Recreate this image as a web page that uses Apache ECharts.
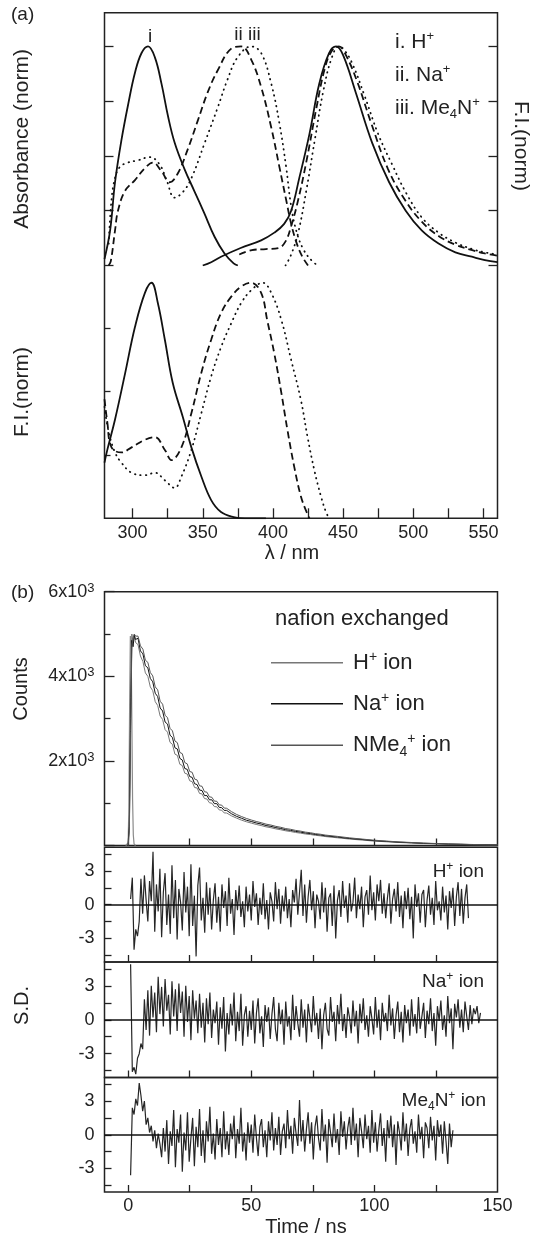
<!DOCTYPE html>
<html>
<head>
<meta charset="utf-8">
<script src="https://cdn.jsdelivr.net/npm/echarts@6.0.0/dist/echarts.min.js"></script>
<style>
  html, body { margin: 0; padding: 0; background: #fff; }
  #chart { width: 534px; height: 1237px; }
</style>
</head>
<body>
<div id="chart"></div>
<script>
// ---------- (a) spectra: [wavelength / nm, normalised value] ----------
// upper: absorbance (left part) and emission (right part)
const absH  = [[280,0.03],[284,0.16],[287.5,0.38],[292,0.57],[297,0.74],[301.7,0.88],[306.4,0.97],[311,1.0],[315.9,0.95],[320.6,0.83],[325.3,0.68],[330,0.56],[337,0.44],[344,0.34],[351,0.24],[358.5,0.13],[365.5,0.055],[372,0.01],[375,0]];
const absNa = [[283,0],[284.5,0.02],[287.5,0.16],[289.6,0.25],[294.6,0.34],[301.7,0.39],[308.8,0.445],[314.4,0.47],[320.6,0.43],[326.5,0.38],[332.2,0.42],[339.3,0.53],[346.4,0.66],[353.5,0.79],[360.6,0.89],[370.3,0.99],[377.4,1.0],[384.5,0.94],[391.6,0.815],[398.8,0.63],[404.6,0.45],[409.4,0.30],[413,0.19],[417,0.1],[421,0.04],[425,0]];
const absMe = [[283,0.1],[285,0.3],[287.5,0.40],[291,0.45],[296.7,0.47],[303.8,0.48],[312.3,0.495],[319.4,0.46],[324.2,0.39],[330,0.31],[335.8,0.335],[342,0.40],[351.4,0.56],[360.6,0.72],[367.7,0.85],[374.8,0.95],[384.5,1.0],[391.6,0.97],[398.8,0.83],[404.6,0.65],[409.4,0.45],[413,0.27],[417,0.15],[422,0.07],[428,0.02],[432,0]];
const flH   = [[350,0],[356,0.015],[363,0.04],[377,0.08],[391.6,0.115],[401,0.15],[408,0.19],[413,0.25],[418.8,0.40],[426,0.60],[433,0.83],[440,0.97],[445,1.0],[450,0.96],[459,0.79],[470.7,0.56],[482.8,0.38],[494.6,0.25],[506,0.16],[518,0.10],[530,0.06],[541.7,0.04],[551,0.025],[560,0.015]];
const flNa  = [[376,0.05],[385,0.07],[395,0.075],[404,0.08],[409,0.11],[413,0.18],[418,0.3],[424,0.48],[431,0.72],[437,0.9],[442,0.98],[447,1.0],[452,0.96],[460,0.84],[470,0.65],[482,0.44],[494,0.3],[506,0.2],[518,0.135],[530,0.095],[542,0.07],[551,0.055],[560,0.045]];
const flMe  = [[409,0],[413,0.05],[418,0.15],[424,0.35],[430,0.58],[436,0.8],[442,0.95],[447,1.0],[450,0.99],[456,0.93],[465,0.78],[475,0.6],[485,0.46],[495,0.33],[506,0.22],[518,0.15],[530,0.105],[542,0.075],[551,0.06],[560,0.05]];
// lower: F.I.(norm)
const exH   = [[280,0.22],[282,0.27],[287.5,0.39],[294.6,0.57],[301.7,0.755],[308.8,0.89],[313.5,0.93],[318,0.85],[323,0.705],[328.6,0.535],[335.8,0.40],[341.9,0.28],[349,0.165],[356,0.072],[363,0.025],[372,0.005],[380,0],[395,0]];
const exNa  = [[280,0.47],[282,0.38],[285,0.28],[292,0.26],[299.3,0.28],[308.8,0.31],[315.9,0.32],[323,0.27],[327.7,0.23],[334.8,0.28],[341.9,0.415],[349,0.575],[356,0.705],[363,0.81],[370.3,0.875],[377.4,0.915],[384.5,0.93],[391.6,0.89],[396,0.78],[401,0.65],[406,0.495],[410.3,0.35],[415.3,0.20],[420,0.085],[423.6,0.03],[426,0]];
const exMe  = [[280,0.44],[283,0.34],[287.5,0.26],[292,0.22],[299.3,0.18],[308.8,0.17],[315.9,0.18],[323,0.15],[330,0.12],[334.8,0.165],[341.9,0.27],[349,0.415],[356,0.56],[363,0.675],[370.3,0.77],[377.4,0.85],[384.5,0.90],[392.8,0.93],[398.8,0.89],[405.9,0.785],[413,0.625],[420,0.465],[424.7,0.32],[429.5,0.19],[434.3,0.085],[437.8,0.025],[440,0]];

const waveTicks  = [300, 325, 350, 375, 400, 425, 450, 475, 500, 525, 550];
const waveLabels = [300, 350, 400, 450, 500, 550];

// ---------- (b) decays ----------
const decayT  = [0,0.5,1,1.5,2,2.5,3,
  4,5,6,7,8,9,10,11,12,13,14,15,16,17,18,19,20,21,22,23,24,25,26,27,28,29,30,31,32,33,34,35,36,37,38,39,40,
  42,44,46,48,50,52,54,56,58,60,62,64,66,68,70,72,74,76,78,80,
  85,90,95,100,105,110,115,120,125,130,135,140,145,150];
const decayH  = [0,700,3500,5000,4800,4950,4800,
  4750,4480,4350,4080,4000,3750,3660,3400,3310,3060,2980,2740,2680,2440,2390,2160,2130,1920,1890,1710,1690,1530,1510,1370,1360,1230,1220,1110,1100,1010,1000,920,915,840,835,770,768,
  700,648,600,562,530,498,472,441,420,392,372,347,330,308,292,272,259,241,229,212,
  182,152,128,104,87,71,58,47,39,30,25,19,15,11];
const decayNa = [0,450,3000,4850,4700,4980,4870,
  4900,4600,4530,4250,4200,3950,3870,3600,3520,3250,3180,2920,2870,2610,2550,2310,2280,2060,2020,1820,1800,1630,1610,1460,1440,1310,1300,1180,1180,1080,1080,990,990,900,895,830,830,
  750,690,645,598,568,533,508,472,452,422,402,373,357,333,317,295,282,261,249,230,
  200,166,142,114,97,78,66,52,44,34,29,21,18,12];
const decayMe = [0,350,2700,4700,4900,5000,4950,
  4950,4720,4640,4380,4330,4090,4010,3750,3680,3410,3340,3080,3020,2770,2710,2470,2430,2200,2170,1960,1930,1750,1730,1570,1550,1410,1400,1270,1260,1150,1140,1050,1045,960,955,885,880,
  800,735,685,640,603,568,540,505,483,452,430,400,383,357,340,316,302,280,267,247,
  215,180,152,125,104,85,71,57,47,38,31,24,19,14];
const irfT = [-1, 0, 0.3, 0.6, 0.9, 1.2, 1.5, 1.8, 2.1, 2.4, 3];
const irfC = [0, 60, 900, 3300, 4950, 4800, 3000, 1100, 250, 40, 0];

// weighted residuals, one value every resStep ns from resStart
const resStart = 1.0, resStep = 0.7;
const resH = [
  0.5,2.4,-4.0,-2.2,-2.8,-1.5,2.3,-0.8,2.6,0.4,
  -1.5,2.1,0.3,4.7,-2.4,1.8,-0.6,3.2,-2.9,1.1,
  2.8,-1.8,0.9,-2.6,3.5,-1.2,2.2,-3.1,1.4,0.2,
  -2.3,2.9,-0.7,1.6,-2.8,3.6,-1.9,0.8,-4.6,1.7,
  3.3,-1.4,0.6,-2.5,2.0,-0.9,1.5,-2.2,0.4,1.9,
  -1.6,0.7,-2.4,1.8,-0.3,1.2,-1.9,2.4,-0.8,0.5,
  -2.7,1.3,-0.5,1.7,-1.1,0.3,-2.0,1.6,-0.6,0.9,
  -1.4,2.1,-0.2,1.0,-1.8,0.6,-0.9,1.9,-1.3,0.4,
  -2.2,1.1,0.3,-1.5,2.0,-0.4,1.4,-1.7,0.8,-0.6,
  1.6,-1.2,0.5,-2.0,1.3,0.2,2.3,-0.9,1.1,3.1,
  -1.0,1.8,-1.6,0.7,2.2,-0.5,1.2,-2.1,0.9,0.3,
  -1.3,2.0,-0.7,1.5,-2.4,0.6,1.0,-1.9,1.7,-3.0,
  0.4,1.3,-1.1,2.1,-0.3,0.8,-1.6,1.9,-0.6,0.2,
  2.4,-1.2,0.9,-0.4,1.6,-2.0,0.7,1.3,-0.9,2.6,
  -0.5,1.1,-1.4,1.8,0.3,2.2,-0.8,1.0,-1.2,0.6,
  1.9,-1.7,0.5,1.4,-0.6,2.0,-1.1,0.8,-2.1,1.2,
  -0.4,1.5,-1.3,0.7,-3.0,1.8,-0.2,1.0,-1.6,0.9,
  1.3,-2.0,0.4,1.7,-0.9,0.6,-1.8,2.1,-0.5,0.3,
  -1.4,1.6,-0.7,0.8,-2.2,1.2,-0.3,1.5,-1.9,0.7,
  2.0,-1.0,1.4,-1.7,0.6,1.8,-1.2];
const resNa = [
  4.9,-4.6,-4.2,-4.8,-3.4,-3.0,-2.1,-2.6,1.8,-0.9,
  2.6,-1.4,3.0,0.2,2.4,-1.1,3.8,0.5,2.9,-0.6,
  3.6,0.8,2.2,-1.3,3.4,0.3,2.7,-1.0,3.2,0.6,
  2.5,-1.5,3.0,-0.2,2.1,-1.8,2.6,0.1,1.7,-1.2,
  2.3,-0.7,1.5,-2.0,1.9,-0.4,2.4,-1.6,0.9,-0.3,
  1.6,-2.2,1.1,-0.8,2.0,-2.8,0.6,-1.3,1.4,-0.5,
  2.4,-1.9,0.7,-1.0,2.3,-2.3,0.4,1.2,-1.5,0.8,
  -0.9,1.7,-2.1,0.6,1.9,-1.2,0.3,-2.4,1.3,-0.2,
  1.1,-1.7,0.5,2.0,-0.8,-1.9,1.5,-0.4,0.9,-2.2,
  1.6,-0.6,0.3,-1.8,2.2,-0.9,1.2,-0.3,-1.5,1.8,
  -0.7,0.9,-2.0,1.4,0.2,-1.1,2.1,-0.5,0.6,-1.7,
  1.0,-2.6,0.4,1.5,-0.8,-1.4,2.0,-0.2,0.7,-1.9,
  1.3,-0.4,2.3,-1.0,0.5,-1.6,1.1,0.2,-1.2,1.7,
  -0.6,0.8,-2.1,1.4,-0.3,1.9,-0.9,0.4,-1.5,1.2,
  0.1,-1.3,2.0,-0.7,0.9,-1.8,1.5,-0.2,0.6,-1.0,
  2.2,-0.5,1.0,-1.7,0.4,1.6,-1.1,0.7,-2.0,1.3,
  -0.3,0.9,-1.4,1.8,-0.6,0.5,-1.2,2.0,-0.8,0.3,
  1.5,-1.6,0.8,-0.4,1.9,-1.0,0.6,-2.3,1.2,-0.1,
  1.7,-0.9,0.4,-1.5,2.1,-0.3,1.0,-2.6,1.4,0.2,
  1.8,-0.7,0.9,-1.1,1.6,0.3,-0.9,1.3,-0.4,1.0,
  0.5,1.2,-0.3,0.6];
const resMe = [
  -3.6,2.4,1.8,3.2,2.6,4.6,3.5,2.1,3.0,0.9,
  1.5,0.2,0.8,-0.6,0.4,-1.2,0.1,-0.8,-2.0,0.6,
  -1.5,1.3,-2.6,0.3,-1.0,2.2,-2.9,0.5,-0.7,1.8,
  -3.3,0.2,-1.4,2.0,-2.4,-0.3,1.5,-2.8,0.7,-1.1,
  2.3,-1.9,0.4,-2.5,1.2,-0.6,2.5,-1.7,0.1,-2.2,
  1.4,-0.9,0.6,-2.0,2.1,-1.3,0.3,-1.8,1.0,-0.4,
  1.7,-2.1,0.5,-0.8,2.4,-1.5,0.2,-2.3,1.1,-0.7,
  0.9,-1.6,1.8,-0.3,-1.9,0.7,1.4,-1.1,0.4,-2.0,
  1.2,-0.5,2.0,-1.4,0.6,-0.9,1.6,-1.8,0.3,1.0,
  -1.2,2.2,-0.4,0.8,-1.7,1.5,0.1,-1.0,3.1,-0.6,
  1.3,-1.5,0.5,2.0,-0.8,1.1,-2.2,0.7,1.7,-0.3,
  -1.4,2.3,-0.6,0.9,-2.5,1.4,0.2,-1.1,1.9,-0.7,
  0.5,-1.8,2.1,-0.2,1.2,-1.3,0.6,1.6,-0.9,2.4,
  -0.5,1.0,-2.0,1.5,0.3,-1.2,1.8,-0.4,0.8,-1.6,
  2.2,-0.7,1.1,-1.5,0.4,1.9,-1.0,0.6,-2.4,1.3,
  -0.3,1.7,-1.1,0.9,-2.7,1.2,0.2,-1.4,2.0,-0.6,
  1.0,-1.9,0.5,1.4,-0.8,0.3,-1.6,1.8,-0.4,0.7,
  -2.1,1.1,0.6,-1.2,1.6,-0.5,0.8,-2.3,1.3,-0.2,
  0.9,-1.7,1.2,-0.6,-2.6,1.0,-1.1,0.4];

const timeTicks  = [0, 25, 50, 75, 100, 125];
const timeLabels = [0, 50, 100, 150];
const resTicks   = [-4.5, -3, -1.5, 0, 1.5, 3, 4.5];
const resLabels  = [-3, 0, 3];

// ---------- layout & styles ----------
const FONT = 'Arial, "Liberation Sans", Helvetica, sans-serif';
const INK = '#222';
const L = 104.5, W = 393;
const frame = { show: true, borderColor: INK, borderWidth: 1.5, backgroundColor: 'transparent' };
const noLine = { show: false, onZero: false };

const SOLID = { type: 'solid', cap: 'butt' };
const DASH  = { type: [7, 4], cap: 'butt' };
const DOT   = { type: [0.5, 5], cap: 'round' };

function spectrum(data, xi, yi, dash) {
  return {
    type: 'line', xAxisIndex: xi, yAxisIndex: yi, data,
    smooth: 0.4, symbol: 'none', silent: true,
    lineStyle: { color: '#111', width: 1.8, type: dash.type, cap: dash.cap }
  };
}
function decay(name, counts, color) {
  return {
    name, type: 'line', xAxisIndex: 3, yAxisIndex: 4, symbol: 'none', silent: true,
    data: decayT.map((t, i) => [t, counts[i]]),
    lineStyle: { color, width: 1 }, itemStyle: { color }
  };
}
function residual(values, k) {
  return {
    type: 'line', xAxisIndex: 4 + k, yAxisIndex: 5 + k, symbol: 'none', silent: true,
    data: values.map((v, i) => [resStart + i * resStep, v]),
    lineStyle: { color: '#262626', width: 1.2 },
    markLine: {
      silent: true, symbol: ['none', 'none'], label: { show: false }, animation: false,
      lineStyle: { color: '#111', width: 1.5, type: 'solid' }, data: [{ yAxis: 0 }]
    }
  };
}

const noSplit = { show: false };
const tickLab = { color: INK, fontFamily: FONT, fontSize: 18 };

function hiddenAxis(grid) { return { type: 'value', gridIndex: grid, show: false, min: 0, max: 1, axisLine: noLine }; }

function waveAxis(grid, labels) {
  return {
    type: 'value', gridIndex: grid, min: 280, max: 560,
    axisLine: noLine, splitLine: noSplit,
    axisTick: { show: labels, inside: true, length: 10, customValues: waveTicks, lineStyle: { color: INK, width: 1.3 } },
    axisLabel: Object.assign({ show: labels, margin: 6, customValues: waveLabels }, tickLab)
  };
}
function timeAxis(grid, labels) {
  return {
    type: 'value', gridIndex: grid, min: -9.6, max: 150,
    axisLine: noLine, splitLine: noSplit,
    axisTick: { inside: true, length: 7, customValues: timeTicks, lineStyle: { color: INK, width: 1.3 } },
    axisLabel: Object.assign({ show: labels, margin: 5, customValues: timeLabels }, tickLab)
  };
}
function normAxis(grid, pos, max, ticks, len) {
  return {
    type: 'value', gridIndex: grid, position: pos, min: 0, max,
    axisLine: noLine, splitLine: noSplit, axisLabel: { show: false },
    axisTick: { inside: true, length: len, customValues: ticks, lineStyle: { color: INK, width: 1.3 } }
  };
}
function resAxis(grid) {
  return {
    type: 'value', gridIndex: grid, min: -5.1, max: 5.1,
    axisLine: noLine, splitLine: noSplit,
    axisTick: { inside: true, length: 7, customValues: resTicks, lineStyle: { color: INK, width: 1.3 } },
    axisLabel: Object.assign({ margin: 10, customValues: resLabels }, tickLab)
  };
}

// text with super / subscripts for the graphic layer
function richOf(size) {
  const small = Math.round(size * 0.62);
  return {
    n: { fontSize: size, fontFamily: FONT, fill: INK, lineHeight: size + 5 },
    s: { fontSize: small, fontFamily: FONT, fill: INK, lineHeight: small, padding: [0, 0, size * 0.55, 0] },
    b: { fontSize: small, fontFamily: FONT, fill: INK, lineHeight: small, padding: [size * 0.6, 0, 0, 0] }
  };
}
function label(x, y, text, size, opt) {
  opt = opt || {};
  return {
    type: 'text', x, y, rotation: opt.rot || 0, silent: true,
    style: {
      text, fontSize: size, fontFamily: FONT, fill: INK,
      align: opt.align || 'left', verticalAlign: 'middle',
      rich: opt.rich ? richOf(size) : undefined
    }
  };
}

const legendNames = { H: '{n|H}{s|+}{n| ion}', Na: '{n|Na}{s|+}{n| ion}', Me: '{n|NMe}{b|4}{s|+}{n| ion}' };

const option = {
  animation: false,
  backgroundColor: '#fff',
  grid: [
    Object.assign({ left: L, width: W, top: 12.7, height: 505.6 }, frame),  // frame of (a)
    { left: L, width: W, top: 12.7, height: 252.8 },                         // (a) upper
    { left: L, width: W, top: 265, height: 253.3 },                          // (a) lower
    Object.assign({ left: L, width: W, top: 591.7, height: 253.8 }, frame),  // (b) decay
    Object.assign({ left: L, width: W, top: 847.3, height: 114.7 }, frame),  // residual H+
    Object.assign({ left: L, width: W, top: 962, height: 115.5 }, frame),    // residual Na+
    Object.assign({ left: L, width: W, top: 1077.5, height: 114.5 }, frame)  // residual Me4N+
  ],
  xAxis: [
    hiddenAxis(0),
    Object.assign(waveAxis(1, false), { show: false }),
    waveAxis(2, true),
    timeAxis(3, false),
    timeAxis(4, false),
    timeAxis(5, false),
    timeAxis(6, true)
  ],
  yAxis: [
    hiddenAxis(0),
    normAxis(1, 'left', 1.154, [0, 0.25, 0.5, 0.75, 1], 9),
    normAxis(1, 'right', 1.154, [0, 0.25, 0.5, 0.75, 1], 9),
    normAxis(2, 'left', 1, [0.25, 0.5, 0.75], 6),
    {
      type: 'value', gridIndex: 3, min: 0, max: 6000, interval: 2000,
      axisLine: noLine, splitLine: noSplit,
      axisTick: { inside: true, length: 10, lineStyle: { color: INK, width: 1.3 } },
      minorTick: { show: true, splitNumber: 2, length: 6, lineStyle: { color: INK, width: 1.3 } },
      axisLabel: {
        margin: 10, color: INK, fontFamily: FONT,
        formatter: v => v === 0 ? '' : '{m|' + (v / 1000) + 'x10}{s|3}',
        rich: {
          m: { fontSize: 18, fontFamily: FONT, color: INK, lineHeight: 22 },
          s: { fontSize: 13, fontFamily: FONT, color: INK, lineHeight: 13, padding: [0, 0, 7, 0] }
        }
      }
    },
    resAxis(4), resAxis(5), resAxis(6)
  ],
  legend: {
    data: ['H', 'Na', 'Me'], orient: 'vertical', left: 266, top: 644.7,
    icon: 'rect', itemWidth: 72, itemHeight: 1.4, itemGap: 15, selectedMode: false,
    formatter: n => legendNames[n],
    textStyle: {
      color: INK, fontFamily: FONT, padding: [0, 0, 0, 5],
      rich: {
        n: { fontSize: 22, fontFamily: FONT, color: INK, lineHeight: 26 },
        s: { fontSize: 14, fontFamily: FONT, color: INK, lineHeight: 14, padding: [0, 0, 12, 0] },
        b: { fontSize: 14, fontFamily: FONT, color: INK, lineHeight: 14, padding: [13, 0, 0, 0] }
      }
    }
  },
  series: [
    spectrum(absH, 1, 1, SOLID), spectrum(absNa, 1, 1, DASH), spectrum(absMe, 1, 1, DOT),
    spectrum(flH, 1, 1, SOLID), spectrum(flNa, 1, 1, DASH), spectrum(flMe, 1, 1, DOT),
    spectrum(exH, 2, 3, SOLID), spectrum(exNa, 2, 3, DASH), spectrum(exMe, 2, 3, DOT),
    {
      name: 'irf', type: 'line', xAxisIndex: 3, yAxisIndex: 4, symbol: 'none', silent: true,
      data: irfT.map((t, i) => [t, irfC[i]]), lineStyle: { color: '#8a8a8a', width: 1.2 }
    },
    decay('H', decayH, '#777'),
    decay('Na', decayNa, '#111'),
    decay('Me', decayMe, '#555'),
    residual(resH, 0), residual(resNa, 1), residual(resMe, 2)
  ],
  graphic: [
    label(11, 15, '(a)', 19),
    label(150, 37, 'i', 19, { align: 'center' }),
    label(247.5, 35, 'ii iii', 19, { align: 'center' }),
    label(395, 42, '{n|i. H}{s|+}', 21, { rich: true }),
    label(395, 75, '{n|ii. Na}{s|+}', 21, { rich: true }),
    label(395, 108, '{n|iii. Me}{b|4}{n|N}{s|+}', 21, { rich: true }),
    label(22, 139, 'Absorbance (norm)', 21, { align: 'center', rot: Math.PI / 2 }),
    label(521, 146, 'F.I.(norm)', 21, { align: 'center', rot: -Math.PI / 2 }),
    label(22, 392, 'F.I.(norm)', 21, { align: 'center', rot: Math.PI / 2 }),
    label(292, 553, 'λ / nm', 20, { align: 'center' }),
    label(11, 593, '(b)', 19),
    label(21, 689, 'Counts', 20, { align: 'center', rot: Math.PI / 2 }),
    label(275, 619, 'nafion exchanged', 22),
    label(484, 872, '{n|H}{s|+}{n| ion}', 19, { align: 'right', rich: true }),
    label(484, 982, '{n|Na}{s|+}{n| ion}', 19, { align: 'right', rich: true }),
    label(486, 1101, '{n|Me}{b|4}{n|N}{s|+}{n| ion}', 19, { align: 'right', rich: true }),
    label(22.6, 1005.5, 'S.D.', 20, { align: 'center', rot: Math.PI / 2 }),
    label(306, 1227, 'Time / ns', 20, { align: 'center' })
  ]
};

const chart = echarts.init(document.getElementById('chart'));
chart.setOption(option);
</script>
</body>
</html>
